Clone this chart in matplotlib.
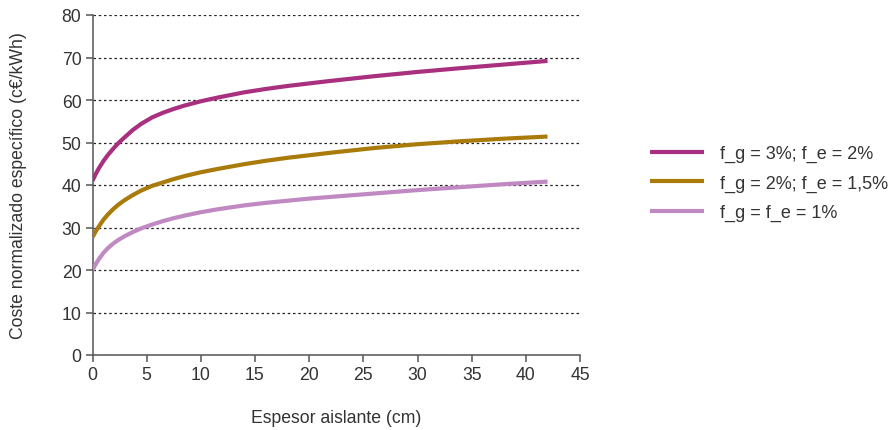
import matplotlib
matplotlib.use("Agg")
import matplotlib.pyplot as plt

plt.rcParams['font.family'] = ['Liberation Sans', 'DejaVu Sans']

# Data
espesor = [0, 0.3, 0.6, 1.0, 1.4, 1.9, 2.4, 3, 3.7, 4.5, 5.5, 6.5, 7.5, 8.5, 10, 11.6,
           14, 16, 18, 20, 22, 26, 30, 34, 38, 42]
coste_alto = [41.0, 42.6, 44.0, 45.6, 47.0, 48.5, 49.9, 51.3, 52.9, 54.4, 55.9, 57.0, 57.9,
              58.7, 59.7, 60.6, 61.8, 62.6, 63.3, 63.9, 64.5, 65.6, 66.6, 67.5, 68.35, 69.2]
coste_medio = [27.7, 29.1, 30.3, 31.8, 33.0, 34.3, 35.4, 36.5, 37.6, 38.7, 39.8, 40.6, 41.4,
               42.1, 43.0, 43.8, 44.9, 45.7, 46.4, 47.0, 47.6, 48.7, 49.6, 50.3, 50.9, 51.4]
coste_bajo = [20.0, 21.4, 22.6, 24.0, 25.1, 26.2, 27.1, 28.0, 28.9, 29.8, 30.7, 31.5, 32.2,
              32.8, 33.6, 34.3, 35.2, 35.8, 36.3, 36.8, 37.2, 38.0, 38.8, 39.5, 40.2, 40.8]

series_labels = ["f_g = 3%; f_e = 2%", "f_g = 2%; f_e = 1,5%", "f_g = f_e = 1%"]
series_colors = ["#A8307E", "#A97B0B", "#C189C2"]
x_ticks = [0, 5, 10, 15, 20, 25, 30, 35, 40, 45]
y_ticks = [0, 10, 20, 30, 40, 50, 60, 70, 80]

text_color = "#333333"
axis_color = "#555555"

fig = plt.figure(figsize=(8.92, 4.31), dpi=100)
ax = fig.add_axes([92.5 / 892, 1 - 356 / 431, (580 - 92.5) / 892, (356 - 16) / 431])

for ys, lab, col in zip([coste_alto, coste_medio, coste_bajo], series_labels, series_colors):
    ax.plot(espesor, ys, color=col, lw=3.0, label=lab, solid_capstyle='butt',
            solid_joinstyle='round', zorder=3)

ax.set_xlim(0, 45)
ax.set_ylim(0, 80)
ax.set_xticks(x_ticks)
ax.set_yticks(y_ticks)

for s in ['top', 'right']:
    ax.spines[s].set_visible(False)
for s in ['left', 'bottom']:
    ax.spines[s].set_color(axis_color)
    ax.spines[s].set_linewidth(1.1)

ax.tick_params(axis='both', direction='out', length=5, width=1.1, color=axis_color,
               labelcolor=text_color, labelsize=12.7, pad=3)

ax.yaxis.grid(True, color='#222222', linestyle=(0, (2, 2.2)), linewidth=0.9)
ax.set_axisbelow(True)

ax.set_ylabel("Coste normalizado específico (c€/kWh)", fontsize=12.7, color=text_color, labelpad=25)
ax.set_xlabel("Espesor aislante (cm)", fontsize=12.7, color=text_color, labelpad=19)

leg = ax.legend(loc='center left', bbox_to_anchor=(650 / 892, 1 - 184 / 431),
                bbox_transform=fig.transFigure, frameon=False, fontsize=13,
                handlelength=3.0, handletextpad=0.85, labelspacing=0.68,
                borderpad=0, borderaxespad=0)
for t in leg.get_texts():
    t.set_color(text_color)

fig.savefig("out.png", dpi=100)
